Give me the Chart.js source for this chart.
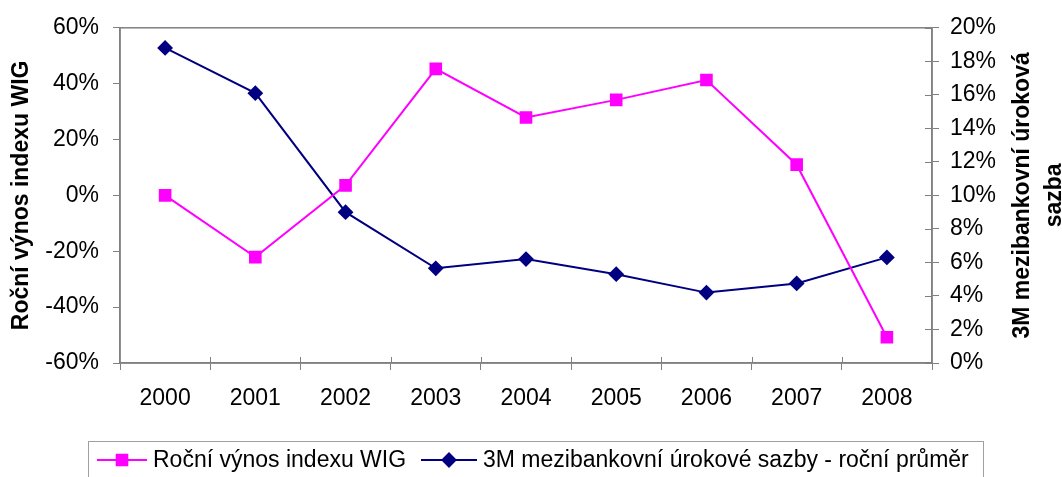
<!DOCTYPE html>
<html>
<head>
<meta charset="utf-8">
<script src="https://cdn.jsdelivr.net/npm/chart.js@4"></script>
<style>
  body { margin: 0; background: #fff; }
  #wrap { width: 1062px; height: 477px; }
</style>
</head>
<body>
<div id="wrap"><canvas id="myChart" width="1062" height="477"></canvas></div>
<script>
const years = ['2000', '2001', '2002', '2003', '2004', '2005', '2006', '2007', '2008'];
// rocni vynos indexu WIG (%)
const wigReturn = [0, -22.1, 3.6, 45.3, 27.9, 34.2, 41.3, 11.0, -50.8];
// 3M mezibankovni urokova sazba - rocni prumer (%)
const rate3M = [18.8, 16.1, 9.0, 5.65, 6.2, 5.3, 4.2, 4.75, 6.3];

const leftTitle = 'Roční výnos indexu WIG';
const rightTitle = ['3M mezibankovní úroková', 'sazba'];
const legendNames = ['Roční výnos indexu WIG', '3M mezibankovní úrokové sazby - roční průměr'];

const FONT = '"Liberation Sans", Arial, sans-serif';
const FS = 23;
Chart.defaults.font.family = FONT;
Chart.defaults.font.size = FS;
Chart.defaults.color = '#000';

// frame, inner tick marks, axis titles and legend
const extras = {
  id: 'extras',
  afterDatasetsDraw(chart) {
    const ctx = chart.ctx;
    const a = chart.chartArea;
    ctx.save();
    ctx.strokeStyle = '#808080';
    ctx.lineWidth = 1.5;
    ctx.strokeRect(a.left, a.top, a.right - a.left, a.bottom - a.top);

    // inner halves of the crossing ticks
    ctx.lineWidth = 1;
    ctx.beginPath();
    const step = (a.right - a.left) / years.length;
    for (let i = 1; i < years.length; i++) {
      const x = Math.round(a.left + i * step) + 0.5;
      ctx.moveTo(x, a.bottom - 6);
      ctx.lineTo(x, a.bottom);
    }
    const y1 = chart.scales.y1;
    y1.ticks.forEach(t => {
      const y = Math.round(y1.getPixelForValue(t.value)) + 0.5;
      ctx.moveTo(a.right - 7, y);
      ctx.lineTo(a.right, y);
    });
    ctx.stroke();

    ctx.fillStyle = '#000';
    ctx.font = 'bold ' + FS + 'px ' + FONT;
    ctx.textAlign = 'center';
    ctx.textBaseline = 'middle';
    const midY = (a.top + a.bottom) / 2;
    ctx.save();
    ctx.translate(22, midY);
    ctx.rotate(-Math.PI / 2);
    ctx.fillText(leftTitle, 0, 0);
    ctx.restore();
    ctx.save();
    ctx.translate(1023, midY);
    ctx.rotate(-Math.PI / 2);
    ctx.fillText(rightTitle[0], 0, 0);
    ctx.fillText(rightTitle[1], 0, 32);
    ctx.restore();

    // legend box
    ctx.strokeStyle = '#a0a0a0';
    ctx.lineWidth = 1;
    ctx.strokeRect(88.5, 441.5, 895, 50);
    ctx.font = FS + 'px ' + FONT;
    ctx.textAlign = 'left';
    const ly = 460;
    const items = [
      { x0: 97, x1: 147, tx: 153 },
      { x0: 421, x1: 477, tx: 483 }
    ];
    chart.data.datasets.forEach((ds, i) => {
      const it = items[i];
      ctx.strokeStyle = ds.borderColor;
      ctx.lineWidth = 2;
      ctx.beginPath();
      ctx.moveTo(it.x0, ly);
      ctx.lineTo(it.x1, ly);
      ctx.stroke();
      ctx.fillStyle = ds.pointBackgroundColor;
      ctx.strokeStyle = ds.pointBackgroundColor;
      Chart.helpers.drawPoint(ctx, { pointStyle: ds.pointStyle, radius: ds.pointRadius, borderWidth: 1 }, (it.x0 + it.x1) / 2, ly);
      ctx.fillStyle = '#000';
      ctx.fillText(legendNames[i], it.tx, ly + 1);
    });
    ctx.restore();
  }
};

const ctx = document.getElementById('myChart');
new Chart(ctx, {
  type: 'line',
  data: {
    labels: years,
    datasets: [{
      label: legendNames[0],
      data: wigReturn,
      yAxisID: 'y',
      borderColor: '#ff00ff',
      borderWidth: 2,
      pointStyle: 'rect',
      pointRadius: 7.5,
      pointBackgroundColor: '#ff00ff',
      pointBorderColor: '#ff00ff',
      tension: 0
    }, {
      label: legendNames[1],
      data: rate3M,
      yAxisID: 'y1',
      borderColor: '#000080',
      borderWidth: 2,
      pointStyle: 'rectRot',
      pointRadius: 6.5,
      pointBackgroundColor: '#000080',
      pointBorderColor: '#000080',
      tension: 0
    }]
  },
  options: {
    responsive: false,
    maintainAspectRatio: false,
    animation: false,
    layout: { padding: { top: 27, bottom: 36, left: 0, right: 0 } },
    plugins: {
      legend: { display: false },
      tooltip: { enabled: false }
    },
    scales: {
      x: {
        offset: true,
        grid: { offset: true, drawOnChartArea: false, tickLength: 7, color: '#808080' },
        border: { color: '#808080', width: 1.5 },
        ticks: { padding: 15, maxRotation: 0 },
        afterFit: s => { s.height = 78; }
      },
      y: {
        position: 'left',
        min: -60, max: 60,
        grid: { drawOnChartArea: false, tickLength: 7, color: '#808080' },
        border: { color: '#808080', width: 1.5 },
        ticks: { stepSize: 20, padding: 14, callback: v => v + '%' },
        afterFit: s => { s.width = 120; }
      },
      y1: {
        position: 'right',
        min: 0, max: 20,
        grid: { drawOnChartArea: false, tickLength: 7, color: '#808080' },
        border: { color: '#808080', width: 1.5 },
        ticks: { stepSize: 2, padding: 11, callback: v => v + '%' },
        afterFit: s => { s.width = 130; }
      }
    }
  },
  plugins: [extras]
});
</script>
</body>
</html>
